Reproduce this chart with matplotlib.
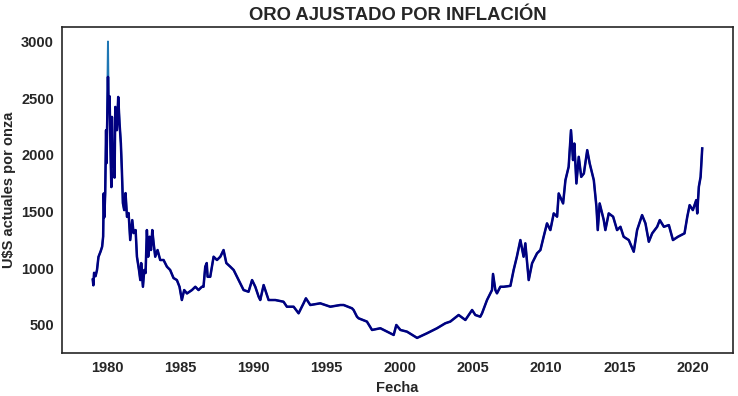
import matplotlib
matplotlib.use("Agg")
import matplotlib.pyplot as plt

# ---- data ----
years = [
    1979.01, 1979.05, 1979.10, 1979.20, 1979.30, 1979.40, 1979.55, 1979.65, 1979.72, 1979.76,
    1979.80, 1979.86, 1979.92, 1979.95, 1980.05, 1980.10, 1980.16, 1980.22, 1980.28, 1980.32,
    1980.38, 1980.43, 1980.50, 1980.55, 1980.66, 1980.75, 1980.84, 1980.93, 1981.00, 1981.07,
    1981.16, 1981.25, 1981.35, 1981.46, 1981.57, 1981.71, 1981.80, 1981.94, 1982.03, 1982.17,
    1982.26, 1982.32, 1982.44, 1982.53, 1982.62, 1982.71, 1982.80, 1982.90, 1982.99, 1983.08,
    1983.17, 1983.28, 1983.44, 1983.62, 1983.85, 1984.08, 1984.30, 1984.53, 1984.76, 1984.94,
    1985.10, 1985.26, 1985.45, 1985.79, 1986.02, 1986.24, 1986.47, 1986.58, 1986.70, 1986.80,
    1986.86, 1987.04, 1987.27, 1987.38, 1987.50, 1987.73, 1987.95, 1988.14, 1988.41, 1988.64,
    1988.87, 1989.10, 1989.32, 1989.66, 1989.90, 1990.12, 1990.35, 1990.46, 1990.69, 1991.03,
    1991.49, 1992.05, 1992.28, 1992.74, 1993.08, 1993.42, 1993.58, 1993.88, 1994.56, 1995.25,
    1995.93, 1996.16, 1996.73, 1996.84, 1997.07, 1997.18, 1997.75, 1998.10, 1998.67, 1999.58,
    1999.76, 2000.04, 2000.49, 2001.18, 2001.86, 2002.54, 2003.11, 2003.45, 2004.02, 2004.48,
    2004.94, 2005.16, 2005.50, 2005.62, 2005.96, 2006.30, 2006.37, 2006.53, 2006.64, 2006.87,
    2007.10, 2007.56, 2007.78, 2008.00, 2008.24, 2008.46, 2008.58, 2008.81, 2009.04, 2009.38,
    2009.61, 2009.83, 2010.06, 2010.29, 2010.52, 2010.75, 2010.86, 2011.16, 2011.32, 2011.54,
    2011.70, 2011.84, 2011.93, 2012.07, 2012.23, 2012.40, 2012.58, 2012.81, 2012.98, 2013.26,
    2013.44, 2013.53, 2013.66, 2013.94, 2014.05, 2014.28, 2014.58, 2014.85, 2015.08, 2015.30,
    2015.65, 2015.99, 2016.22, 2016.56, 2016.79, 2017.02, 2017.25, 2017.59, 2017.77, 2018.05,
    2018.39, 2018.67, 2019.01, 2019.46, 2019.65, 2019.81, 2020.03, 2020.26, 2020.33, 2020.44,
    2020.56, 2020.67,
]
price_adjusted = [
    900, 850, 960, 930, 985, 1100, 1150, 1190, 1280, 1660,
    1450, 1660, 2218, 1927, 2688, 2400, 2517, 2070, 1716, 2335,
    1900, 2071, 1800, 2423, 2218, 2511, 2280, 2103, 1866, 1575,
    1513, 1663, 1454, 1487, 1249, 1425, 1310, 1337, 1102, 985,
    896, 1046, 837, 985, 958, 1337, 1102, 1278, 1161, 1337,
    1222, 1102, 1161, 1073, 1073, 1014, 985, 914, 896, 837,
    720, 808, 778, 808, 837, 808, 837, 837, 1014, 1046,
    925, 925, 1102, 1088, 1073, 1102, 1161, 1046, 1014, 985,
    925, 867, 808, 793, 896, 837, 749, 720, 852, 720,
    720, 705, 661, 661, 603, 691, 735, 676, 691, 661,
    676, 676, 647, 632, 573, 559, 530, 456, 471, 412,
    500, 456, 441, 386, 427, 471, 515, 530, 588, 544,
    632, 588, 573, 603, 720, 808, 950, 808, 779, 837,
    837, 845, 985, 1102, 1249, 1102, 1220, 896, 1044, 1132,
    1161, 1278, 1396, 1337, 1484, 1455, 1660, 1572, 1777, 1895,
    2218, 1954, 2100, 1748, 1983, 1806, 1836, 2042, 1924, 1777,
    1542, 1337, 1572, 1425, 1337, 1484, 1455, 1337, 1366, 1278,
    1249, 1146, 1337, 1469, 1396, 1234, 1308, 1366, 1425, 1366,
    1381, 1249, 1278, 1308, 1455, 1557, 1513, 1601, 1484, 1719,
    1806, 2057,
]
# second (unsmoothed) series differs only at the January-1980 peak
raw_peak_year = 1980.05
raw_peak_value = 3000

raw_values = [raw_peak_value if y == raw_peak_year else v for y, v in zip(years, price_adjusted)]

title = "ORO AJUSTADO POR INFLACIÓN"
xlabel = "Fecha"
ylabel = "U$S actuales por onza"
xtick_years = [1980, 1985, 1990, 1995, 2000, 2005, 2010, 2015, 2020]

plt.rcParams['font.family'] = ['Liberation Sans', 'DejaVu Sans']
plt.rcParams['font.weight'] = 'bold'

fig = plt.figure(figsize=(7.38, 3.96), dpi=100)
ax = fig.add_axes([0.0844, 0.1093, 0.9084, 0.8233])

ax.plot(years, raw_values, color='#1f77b4', lw=1.4)
ax.plot(years, price_adjusted, color='#000080', lw=1.8)

ax.set_xticks(xtick_years)
ax.set_xticklabels([str(y) for y in xtick_years])
ax.tick_params(axis='both', length=0, labelsize=10.5, colors='#262626', pad=6)
for lab in ax.get_xticklabels() + ax.get_yticklabels():
    lab.set_fontweight('bold')

ax.set_title(title, fontsize=13.3, fontweight='bold', color='#262626', pad=5)
ax.set_xlabel(xlabel, fontsize=10.5, fontweight='bold', color='#262626', labelpad=4)
ax.set_ylabel(ylabel, fontsize=10.5, fontweight='bold', color='#262626', labelpad=4)

for s in ax.spines.values():
    s.set_color('#262626')
    s.set_linewidth(1.2)

fig.savefig('out.png', dpi=100)
